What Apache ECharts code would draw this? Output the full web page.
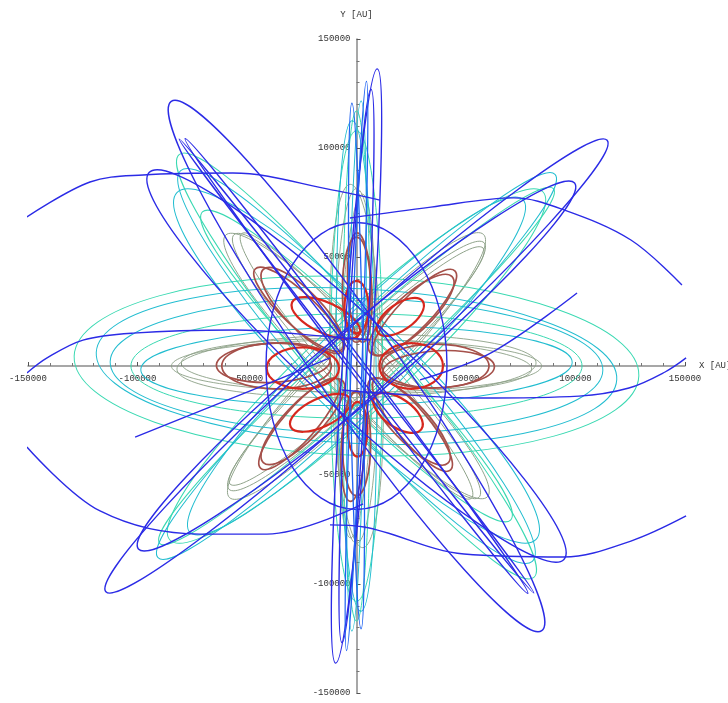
<!DOCTYPE html>
<html>
<head>
<meta charset="utf-8">
<title>Orbits X-Y [AU]</title>
<script src="https://cdn.jsdelivr.net/npm/echarts@6/dist/echarts.min.js"></script>
<style>
html, body { margin: 0; padding: 0; background: #fff; }
#chart { width: 728px; height: 703px; }
</style>
</head>
<body>
<div id="chart"></div>
<script>
// axis ticks [AU]
var tickValues = [-150000, -100000, -50000, 50000, 100000, 150000];

// orbit loops: [centre x, centre y, semi-axis a, semi-axis b, angle deg] in AU
var redLoops = [
    [-24500, -1000, 16500, 9500, 0],
    [25000, 0, 14500, 10500, 0],
    [-14000, 22000, 17000, 7000, 155],
    [20000, 22500, 12500, 6000, 35],
    [19000, -21500, 13000, 6500, -35],
    [-16500, -21500, 15000, 6500, 205],
    [0, 27000, 12000, 5500, 90],
    [500, -29000, 12500, 4500, 90]
];

var brownLoops = [
    [-36500, 0, 25000, 10500, 180],
    [36000, 0, 24500, 10000, 0],
    [-24500, 25500, 26000, 8500, 134],
    [25000, 23500, 25500, 8500, 43],
    [-24500, -25500, 26000, 8500, 226],
    [24000, -25500, 26000, 8500, 313],
    [0, 35000, 24000, 6500, 90],
    [0, -35500, 24000, 6500, 270],
    [-38000, 1500, 26000, 9000, 183],
    [37500, -1500, 25500, 8500, 3],
    [-26500, 26000, 27000, 7500, 137],
    [26500, 24500, 26500, 7500, 46],
    [-26000, -26500, 27000, 7500, 229],
    [25500, -27000, 27000, 7500, 310],
    [1500, 36000, 25000, 5500, 93],
    [-1500, -37000, 25000, 5500, 267]
];

var grayOrbits = [
    [0, 0, 80000, 12500, -1],
    [0, 0, 82000, 14500, 1],
    [0, 0, 84500, 12000, 0],
    [0, 0, 81000, 12500, 44],
    [0, 0, 83500, 14500, 46],
    [0, 0, 79000, 11000, 43],
    [0, 0, 82000, 12500, 133],
    [0, 0, 84500, 14500, 135],
    [0, 0, 80000, 11000, 131],
    [0, 0, 81000, 10000, 90],
    [0, 0, 83000, 12000, 92],
    [0, 0, 78500, 8000, 88]
];

var cyanOrbits = [
    [0, 0, 129000, 41000, -2],
    [0, 0, 103000, 24000, 0],
    [0, 0, 126000, 18000, 130],
    [0, 0, 99500, 15000, 135],
    [0, 0, 116500, 21000, 43],
    [0, 0, 121000, 13500, 42],
    [0, 0, 116500, 6500, 90],
    [0, 0, 107500, 12000, 90]
];

var tealOrbits = [
    [0, 0, 112500, 31000, -1],
    [0, 0, 98500, 18000, 1],
    [0, 0, 119000, 35500, -3],
    [0, 0, 114000, 23000, 136],
    [0, 0, 120000, 20000, 132],
    [0, 0, 126000, 16000, 44],
    [0, 0, 107500, 19000, 45],
    [0, 0, 112000, 9000, 91],
    [0, 0, 121000, 4000, 89]
];

var blueOrbits = [
    [0, 0, 136000, 6500, 86],
    [0, 0, 126500, 4500, 87],
    [0, 0, 147500, 18500, 125],
    [0, 0, 131500, 2000, 128],
    [0, 0, 130000, 3500, 127],
    [0, 0, 154000, 15000, 42],
    [0, 0, 130000, 16000, 40],
    [0, 0, 129500, 20500, 137],
    [0, 0, 65500, 41500, 90]
];

var lightBlueOrbits = [
    [0, 0, 130000, 2500, 88],
    [0, 0, 120000, 3000, 91]
];

// open blue trajectory pieces, [x, y] in AU
var arcTopLeft = [[-150500, 68350], [-121700, 84400], [-97500, 87600], [-56400, 88500], [-10700, 80700], [10700, 76100]];
var arcBottomRight = [[-12100, -72900], [3400, -73850], [49100, -86250], [94700, -87600], [125300, -80300], [150500, -68800]];
var arcTopRight = [[-3000, 67900], [34000, 72900], [71900, 77100], [94700, 71600], [125300, 57800], [148600, 37200]];
var arcBottomLeft = [[-150500, -37150], [-117100, -66500], [-71500, -77100], [-40900, -77100], [3000, -63300]];
var arcLeft = [[-150500, -3200], [-141300, 3700], [-124900, 11900], [-102000, 15100], [-56400, 16500], [-10700, 13300], [6200, 11900]];
var arcRight = [[-6600, -11000], [10300, -12400], [55900, -14700], [101600, -13800], [124400, -10100], [140900, -2750], [150500, 3700]];
var segLeft = [[-101100, -32600], [-40900, -8300], [-12100, 3700]];
var segRight = [[100700, 33500], [61400, 6000], [29000, -6400]];

var myChart = echarts.init(document.getElementById('chart'));

// plot box, axes cross in its middle
var gridBox = { left: 28, right: 43, top: 39, bottom: 10 };
var plotW = 728 - gridBox.left - gridBox.right;
var plotH = 703 - gridBox.top - gridBox.bottom;

function orbitSeries(data, color, width, z) {
    return {
        type: 'custom',
        data: data,
        z: z,
        clip: true,
        silent: true,
        encode: { x: 0, y: 1 },
        renderItem: function (params, api) {
            var c = api.coord([api.value(0), api.value(1)]);
            var s = api.size([api.value(2), api.value(3)]);
            return {
                type: 'ellipse',
                x: c[0],
                y: c[1],
                rotation: api.value(4) * Math.PI / 180,
                shape: { cx: 0, cy: 0, rx: s[0], ry: s[1] },
                style: { fill: 'none', stroke: color, lineWidth: width }
            };
        }
    };
}

function arcSeries(data) {
    return {
        type: 'line',
        data: data,
        smooth: 0.35,
        showSymbol: false,
        silent: true,
        clip: true,
        z: 6,
        lineStyle: { color: '#2b2be6', width: 1.4 }
    };
}

var labelFont = { color: '#333', fontSize: 9, fontFamily: 'Liberation Mono' };
function axisLabelText(v) { return v === 0 ? '' : String(v); }

var option = {
    animation: false,
    backgroundColor: '#fff',
    grid: {
        left: gridBox.left, right: gridBox.right, top: gridBox.top, bottom: gridBox.bottom,
        containLabel: false,
        outerBoundsMode: 'none'
    },
    xAxis: {
        type: 'value',
        position: 'bottom',
        offset: -plotH / 2,
        min: tickValues[0],
        max: tickValues[tickValues.length - 1],
        interval: tickValues[1] - tickValues[0],
        name: 'X [AU]',
        nameLocation: 'end',
        nameGap: 14,
        nameTextStyle: labelFont,
        axisLine: { onZero: false, lineStyle: { color: '#8a8a8a', width: 1.5 } },
        axisTick: { inside: true, length: 4, lineStyle: { color: '#555' } },
        minorTick: { show: true, splitNumber: 5, length: 3, lineStyle: { color: '#777' } },
        splitLine: { show: false },
        axisLabel: Object.assign({ margin: 8, formatter: axisLabelText }, labelFont)
    },
    yAxis: {
        type: 'value',
        position: 'left',
        offset: -plotW / 2,
        min: tickValues[0],
        max: tickValues[tickValues.length - 1],
        interval: tickValues[1] - tickValues[0],
        name: 'Y [AU]',
        nameLocation: 'end',
        nameGap: 20,
        nameTextStyle: labelFont,
        axisLine: { onZero: false, lineStyle: { color: '#8a8a8a', width: 1.5 } },
        axisTick: { inside: true, length: 4, lineStyle: { color: '#555' } },
        minorTick: { show: true, splitNumber: 5, length: 3, lineStyle: { color: '#777' } },
        splitLine: { show: false },
        axisLabel: Object.assign({ margin: 6, formatter: axisLabelText }, labelFont)
    },
    series: [
        orbitSeries(grayOrbits, '#8ca087', 0.9, 2),
        orbitSeries(cyanOrbits, '#3ad9b2', 1.0, 3),
        orbitSeries(tealOrbits, '#22bdd0', 1.0, 3),
        orbitSeries(brownLoops, '#a5504a', 1.7, 4),
        orbitSeries(redLoops, '#d7281e', 2.2, 5),
        orbitSeries(blueOrbits, '#2b2be6', 1.4, 6),
        orbitSeries(lightBlueOrbits, '#1f63f2', 1.3, 6),
        arcSeries(arcTopLeft),
        arcSeries(arcBottomRight),
        arcSeries(arcTopRight),
        arcSeries(arcBottomLeft),
        arcSeries(arcLeft),
        arcSeries(arcRight),
        arcSeries(segLeft),
        arcSeries(segRight)
    ]
};

myChart.setOption(option);
window.addEventListener('resize', function () { myChart.resize(); });
</script>
</body>
</html>
